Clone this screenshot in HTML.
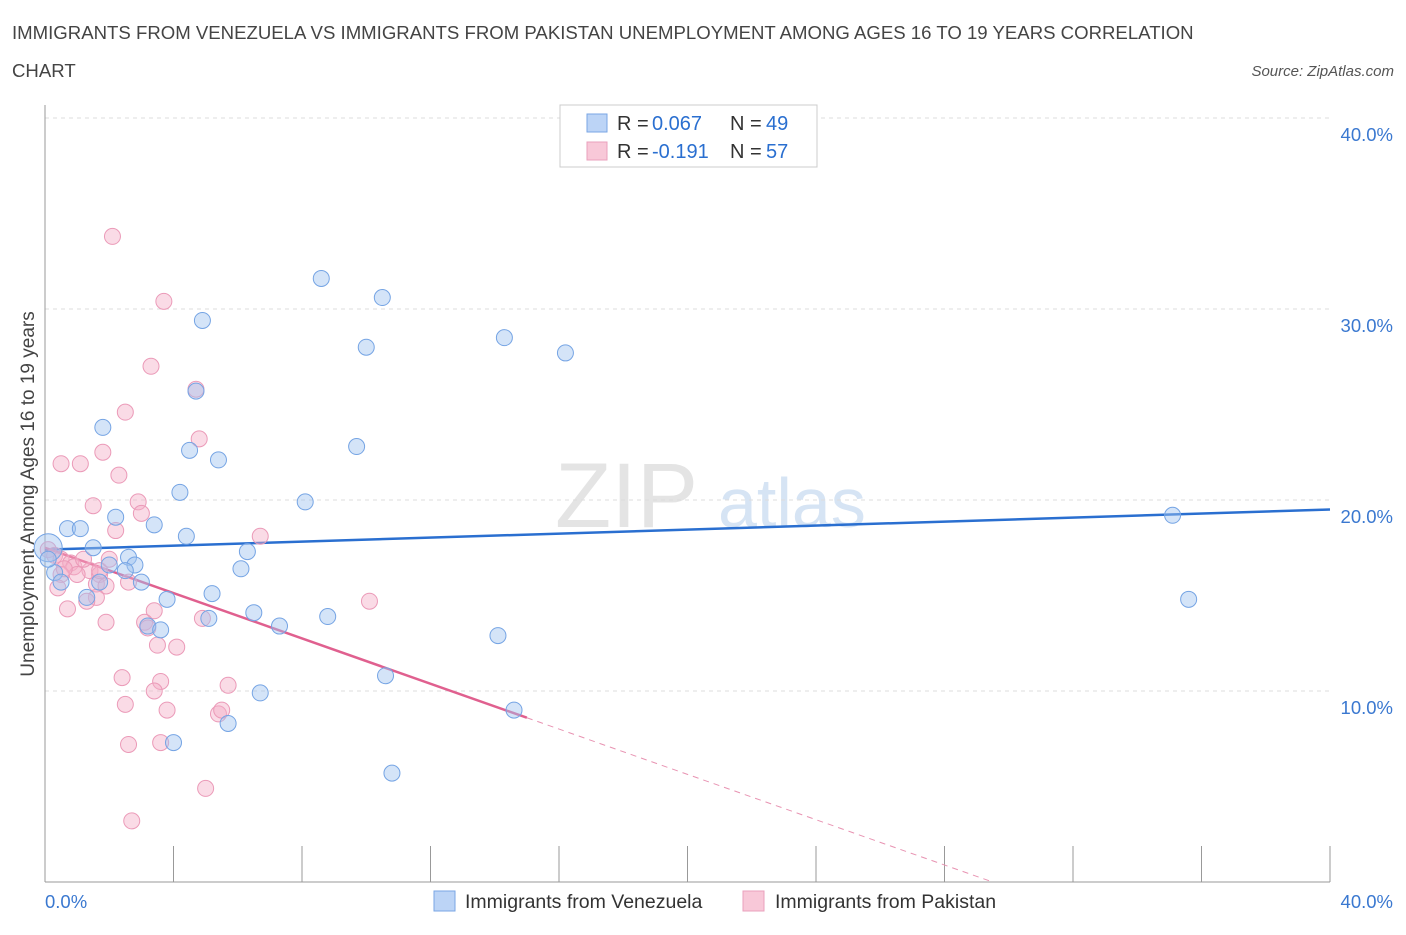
<!DOCTYPE html>
<html><head><meta charset="utf-8"><style>
body{margin:0;background:#fff;font-family:"Liberation Sans",sans-serif;}
svg text{font-family:"Liberation Sans",sans-serif;}
</style></head><body>
<svg id="chart" width="1406" height="930" viewBox="0 0 1406 930" xmlns="http://www.w3.org/2000/svg">
<text x="12" y="39" font-size="18.6" fill="#444">IMMIGRANTS FROM VENEZUELA VS IMMIGRANTS FROM PAKISTAN UNEMPLOYMENT AMONG AGES 16 TO 19 YEARS CORRELATION</text>
<text x="12" y="77" font-size="18.6" fill="#444">CHART</text>
<text x="1394" y="76" font-size="15" fill="#555" text-anchor="end" font-style="italic">Source: ZipAtlas.com</text>
<text x="555" y="527" font-size="92" fill="#e4e4e4" font-family="Liberation Serif">ZIP</text>
<text x="718" y="527" font-size="70" fill="#d6e4f4">atlas</text>
<text transform="translate(34,494) rotate(-90)" font-size="19" fill="#444" text-anchor="middle">Unemployment Among Ages 16 to 19 years</text>
<g id="grid"></g><g id="axes"></g><g id="trends"></g><g id="points"></g>
<g>
<rect x="560" y="105" width="257" height="62" fill="#fff" stroke="#ccc"/>
<rect x="587" y="114" width="20" height="18" fill="#bcd4f6" stroke="#7aa6e4"/>
<text x="617" y="130" font-size="20" fill="#333">R =</text>
<text x="652" y="130" font-size="20" fill="#2a6fd0">0.067</text>
<text x="730" y="130" font-size="20" fill="#333">N =</text>
<text x="766" y="130" font-size="20" fill="#2a6fd0">49</text>
<rect x="587" y="142" width="20" height="18" fill="#f8c8d8" stroke="#eaa0bc"/>
<text x="617" y="158" font-size="20" fill="#333">R =</text>
<text x="652" y="158" font-size="20" fill="#2a6fd0">-0.191</text>
<text x="730" y="158" font-size="20" fill="#333">N =</text>
<text x="766" y="158" font-size="20" fill="#2a6fd0">57</text>
</g>
<g>
<rect x="434" y="891" width="21" height="20" fill="#bcd4f6" stroke="#7aa6e4"/>
<text x="465" y="908" font-size="19.5" fill="#333">Immigrants from Venezuela</text>
<rect x="743" y="891" width="21" height="20" fill="#f8c8d8" stroke="#eaa0bc"/>
<text x="775" y="908" font-size="19.5" fill="#333">Immigrants from Pakistan</text>
</g>
</svg>
<script>
const yTicks=[10,20,30,40];
const yTickLabels=["10.0%","20.0%","30.0%","40.0%"];
const xTicks=[0,4,8,12,16,20,24,28,32,36,40];
const venX=[8.6,10.5,4.9,14.3,10.0,16.2,4.7,1.8,9.7,4.5,5.4,4.2,8.1,2.2,0.7,1.1,3.4,4.4,1.5,6.3,2.6,0.1,2.0,2.8,2.5,6.1,0.3,0.5,3.0,1.7,5.2,3.8,1.3,6.5,5.1,8.8,7.3,3.2,3.6,14.1,10.6,6.7,14.6,5.7,4.0,10.8,35.1,35.6,0.1];
const venY=[31.6,30.6,29.4,28.5,28.0,27.7,25.7,23.8,22.8,22.6,22.1,20.4,19.9,19.1,18.5,18.5,18.7,18.1,17.5,17.3,17.0,17.5,16.6,16.6,16.3,16.4,16.2,15.7,15.7,15.7,15.1,14.8,14.9,14.1,13.8,13.9,13.4,13.4,13.2,12.9,10.8,9.9,9.0,8.3,7.3,5.7,19.2,14.8,16.9];
const pakX=[2.1,3.7,3.3,4.7,2.5,4.8,0.5,1.1,1.8,2.3,1.5,2.9,3.0,2.2,6.7,0.1,0.3,0.5,0.8,0.9,1.4,0.5,1.7,1.0,0.4,1.6,2.6,1.9,1.6,1.3,0.7,3.4,1.9,3.1,4.9,3.2,3.5,4.1,10.1,2.4,3.6,3.4,5.7,2.5,3.8,5.4,5.5,2.6,3.6,5.0,2.7,1.7,1.2,0.6,2.0];
const pakY=[33.8,30.4,27.0,25.8,24.6,23.2,21.9,21.9,22.5,21.3,19.7,19.9,19.3,18.4,18.1,17.4,17.1,16.9,16.7,16.5,16.3,16.1,16.1,16.1,15.4,15.6,15.7,15.5,14.9,14.7,14.3,14.2,13.6,13.6,13.8,13.3,12.4,12.3,14.7,10.7,10.5,10.0,10.3,9.3,9.0,8.8,9.0,7.2,7.3,4.9,3.2,16.3,16.9,16.4,16.9];
const venTrend=[0,17.4,40,19.5];
const pakTrend=[0,17.5,15,8.6,29.5,0];
const NS="http://www.w3.org/2000/svg";
const X=v=>45+v*32.125, Y=v=>882-v*19.1;
function mk(tag,attrs,parent){const e=document.createElementNS(NS,tag);for(const k in attrs)e.setAttribute(k,attrs[k]);parent.appendChild(e);return e;}
const grid=document.getElementById('grid'),axes=document.getElementById('axes');
yTicks.forEach((t,i)=>{
 const l=mk('line',{x1:45,x2:1330,y1:Y(t),y2:Y(t),stroke:'#ddd','stroke-dasharray':'4,4'},grid);
 
 
 const tx=mk('text',{x:1393,y:Y(t)+23,'font-size':18.5,fill:'#3a78d0','text-anchor':'end'},axes);
 tx.textContent=yTickLabels[i];
 
 
});
const xa=mk('line',{x1:45,x2:1330,y1:882,y2:882,stroke:'#999'},axes);


const ya=mk('line',{x1:45,x2:45,y1:105,y2:882,stroke:'#999'},axes);


xTicks.forEach(t=>{
 const l=mk('line',{x1:X(t),x2:X(t),y1:846,y2:882,stroke:'#999'},axes);
 
 
});
const x0=mk('text',{x:45,y:908,'font-size':18.5,fill:'#3a78d0'},axes);x0.textContent="0.0%";


const x1=mk('text',{x:1393,y:908,'font-size':18.5,fill:'#3a78d0','text-anchor':'end'},axes);x1.textContent="40.0%";


const pts=document.getElementById('points');
pakX.forEach((v,i)=>{
 const c=mk('circle',{cx:X(v),cy:Y(pakY[i]),r:8,fill:'rgba(244,176,200,0.45)',stroke:'#eb9ab8','stroke-width':1},pts);
 
 
});
venX.forEach((v,i)=>{
 const c=mk('circle',{cx:X(v),cy:Y(venY[i]),r:i==21?14:8,fill:'rgba(160,195,240,0.45)',stroke:'#75a4e4','stroke-width':1},pts);
 
 
});
const tr=document.getElementById('trends');
const bt=mk('line',{x1:X(venTrend[0]),y1:Y(venTrend[1]),x2:X(venTrend[2]),y2:Y(venTrend[3]),stroke:'#2a6fd0','stroke-width':2.5},tr);


const pt=mk('line',{x1:X(pakTrend[0]),y1:Y(pakTrend[1]),x2:X(pakTrend[2]),y2:Y(pakTrend[3]),stroke:'#e0608f','stroke-width':2.5},tr);


const pd=mk('line',{x1:X(pakTrend[2]),y1:Y(pakTrend[3]),x2:X(pakTrend[4]),y2:Y(pakTrend[5]),stroke:'#e893b2','stroke-width':1,'stroke-dasharray':'6,5'},tr);


</script>
</body></html>
